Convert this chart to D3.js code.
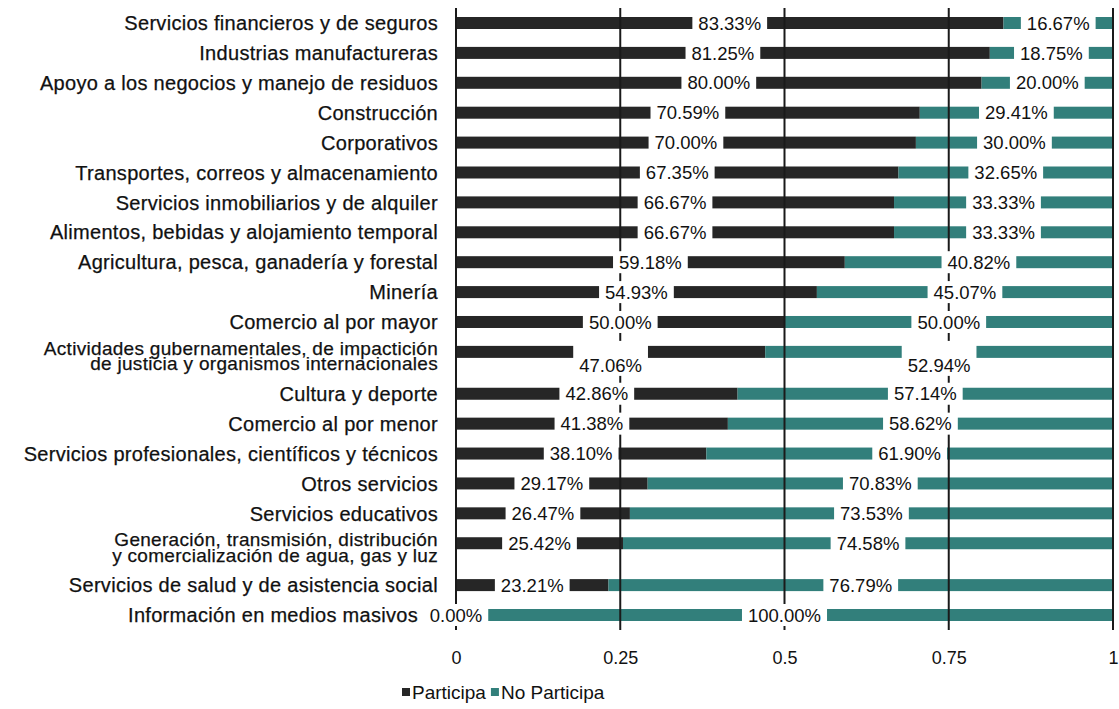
<!DOCTYPE html>
<html>
<head>
<meta charset="utf-8">
<script src="https://cdn.jsdelivr.net/npm/d3@7"></script>
<style>
  body { margin: 0; background: #fff; }
  text { font-family: "Liberation Sans", Arial, sans-serif; fill: #111; }
</style>
</head>
<body>
<div id="chart-area"></div>
<script>
// Data
const categories = [
  "Servicios financieros y de seguros",
  "Industrias manufactureras",
  "Apoyo a los negocios y manejo de residuos",
  "Construcción",
  "Corporativos",
  "Transportes, correos y almacenamiento",
  "Servicios inmobiliarios y de alquiler",
  "Alimentos, bebidas y alojamiento temporal",
  "Agricultura, pesca, ganadería y forestal",
  "Minería",
  "Comercio al por mayor",
  "Actividades gubernamentales, de impactición\nde justicia y organismos internacionales",
  "Cultura y deporte",
  "Comercio al por menor",
  "Servicios profesionales, científicos y técnicos",
  "Otros servicios",
  "Servicios educativos",
  "Generación, transmisión, distribución\ny comercialización de agua, gas y luz",
  "Servicios de salud y de asistencia social",
  "Información en medios masivos"
];
const participa = [83.33, 81.25, 80.00, 70.59, 70.00, 67.35, 66.67, 66.67, 59.18, 54.93,
  50.00, 47.06, 42.86, 41.38, 38.10, 29.17, 26.47, 25.42, 23.21, 0.00];
const noParticipa = [16.67, 18.75, 20.00, 29.41, 30.00, 32.65, 33.33, 33.33, 40.82, 45.07,
  50.00, 52.94, 57.14, 58.62, 61.90, 70.83, 73.53, 74.58, 76.79, 100.00];
const seriesNames = ["Participa", "No Participa"];
const tickValues = [0, 0.25, 0.5, 0.75, 1];

const colors = ["#262626", "#327f7b"];

// Dimensions
const W = 1119, H = 709;
const svg = d3.select("#chart-area").append("svg")
  .attr("width", W).attr("height", H);

// rows after a two-line label get a bit more room
let acc = 0;
const rowPos = categories.map((c, i) => {
  if (i > 0) acc += 1 + (categories[i - 1].includes("\n") ? 0.4 : 0);
  return acc;
});

const x = d3.scaleLinear().domain([0, 1]).range([456, 1113]);
const y = d3.scaleLinear().domain([0, acc]).range([23, 615]);
const barH = 12;

const rows = categories.map((c, i) => ({
  name: c, pos: rowPos[i],
  vals: [participa[i] / 100, noParticipa[i] / 100],
  raw: [participa[i], noParticipa[i]],
  textDy: i === 11 ? 13 : 0, // the wrapped row pushes its value text down
  catDy: c.includes("\n") ? 4 : 0,
  catDx: participa[i] === 0 ? -20 : 0
}));

// Bars
rows.forEach(r => {
  let x0 = 0;
  r.vals.forEach((v, k) => {
    svg.append("rect")
      .attr("x", x(x0))
      .attr("y", y(r.pos) - barH / 2)
      .attr("width", x(x0 + v) - x(x0))
      .attr("height", barH)
      .attr("fill", colors[k]);
    r["mid" + k] = x0 + v / 2;
    x0 += v;
  });
});

// Gridlines + axis line
svg.selectAll(".grid")
  .data(tickValues)
  .enter().append("line")
    .attr("x1", d => x(d)).attr("x2", d => x(d))
    .attr("y1", 8).attr("y2", 630)
    .attr("stroke", "#1a1a1a")
    .attr("stroke-width", 2);

// Value labels
rows.forEach(r => {
  r.raw.forEach((v, k) => {
    const g = svg.append("g")
      .attr("transform", `translate(${x(r["mid" + k])}, ${y(r.pos)})`);
    const t = g.append("text")
      .attr("text-anchor", "middle")
      .attr("y", r.textDy)
      .attr("dy", "0.36em")
      .attr("font-size", "18.5px")
      .text(d3.format(".2f")(v) + "%");
    const bb = t.node().getBBox();
    g.insert("rect", "text")
      .attr("x", bb.x - 6).attr("y", -11)
      .attr("width", bb.width + 12).attr("height", 22 + r.textDy)
      .attr("fill", "#fff");
  });
});

// Category labels
rows.forEach(r => {
  const lines = r.name.split("\n");
  const fs = lines.length > 1 ? 19 : 20;
  const t = svg.append("text")
    .attr("x", 438 + r.catDx)
    .attr("y", y(r.pos) + r.catDy)
    .attr("text-anchor", "end")
    .attr("font-size", fs + "px")
    .attr("letter-spacing", "0.3px")
    .attr("stroke", "#111").attr("stroke-width", 0.25);
  lines.forEach((l, j) => {
    t.append("tspan")
      .attr("x", 438 + r.catDx)
      .attr("dy", j === 0 ? (0.36 - (lines.length - 1) * 0.4) + "em" : "0.8em")
      .text(l);
  });
});

// X axis tick labels
const xAxis = d3.axisBottom(x)
  .tickValues(tickValues)
  .tickSize(0)
  .tickPadding(0)
  .tickFormat(d => d);
const xg = svg.append("g")
  .attr("transform", "translate(0, 651)")
  .call(xAxis);
xg.select(".domain").remove();
xg.selectAll("text")
  .attr("font-size", "18px")
  .attr("fill", "#111")
  .style("font-family", "Liberation Sans, Arial, sans-serif");

// Legend
const legend = svg.append("g").attr("transform", "translate(402, 692)");
let lx = 0;
seriesNames.forEach((s, k) => {
  legend.append("rect")
    .attr("x", lx).attr("y", -4)
    .attr("width", 8).attr("height", 8)
    .attr("fill", colors[k]);
  const t = legend.append("text")
    .attr("x", lx + 10)
    .attr("dy", "0.36em")
    .attr("font-size", "19px")
    .text(s);
  lx += 10 + t.node().getComputedTextLength() + 5;
});
</script>
</body>
</html>
